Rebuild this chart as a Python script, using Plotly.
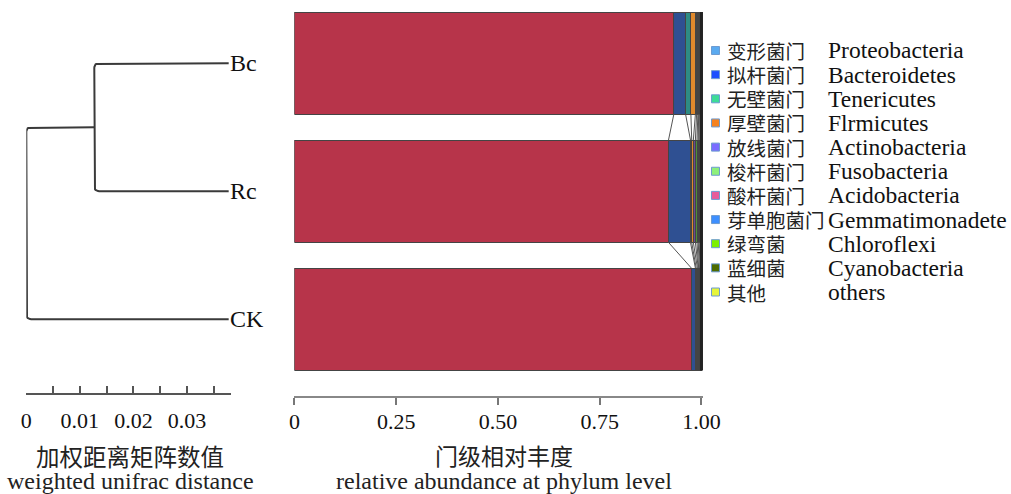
import plotly.graph_objects as go

# ---------------- data ----------------
samples = ["Bc", "Rc", "CK"]
sample_pos = [2, 1, 0]

phyla_cn = ["变形菌门", "拟杆菌门", "无壁菌门", "厚壁菌门", "放线菌门", "梭杆菌门",
            "酸杆菌门", "芽单胞菌门", "绿弯菌", "蓝细菌", "其他"]
phyla_en = ["Proteobacteria", "Bacteroidetes", "Tenericutes", "Flrmicutes", "Actinobacteria",
            "Fusobacteria", "Acidobacteria", "Gemmatimonadete", "Chloroflexi", "Cyanobacteria", "others"]

abund_Bc = [0.932, 0.029, 0.013, 0.011, 0.003, 0.003, 0.002, 0.002, 0.002, 0.001, 0.002]
abund_Rc = [0.919, 0.054, 0.003, 0.004, 0.005, 0.004, 0.003, 0.002, 0.002, 0.002, 0.002]
abund_CK = [0.975, 0.010, 0.002, 0.003, 0.002, 0.001, 0.002, 0.002, 0.001, 0.001, 0.001]

bar_colors = ["#B7344A", "#2F5092", "#2E8C84", "#E0892C", "#6A4C93", "#4E8F3A",
              "#8B5A2B", "#3B5998", "#6B8E23", "#2F4F2F", "#555555"]
legend_colors = ["#5AAAF0", "#1A4FFF", "#3DDC97", "#F5821F", "#7A6CFF", "#8EF07A",
                 "#E85C9A", "#3D8FFF", "#7CF000", "#4D6B00", "#E6F53A"]

# dendrogram: merge heights (weighted unifrac distance)
leaf_depth = 0.0378
merge_BcRc = 0.0251
merge_root = 0.0378

dendro_ticks = [0, 0.005, 0.01, 0.015, 0.02, 0.025, 0.03, 0.035]
dendro_labels = ["0", "", "0.01", "", "0.02", "", "0.03", ""]
bar_ticks = [0, 0.25, 0.5, 0.75, 1.0]
bar_labels = ["0", "0.25", "0.50", "0.75", "1.00"]

# ---------------- layout constants (target picture pixels) ----------------
FW, FH = 1011, 494
M_T, M_B = 12, 98
PLOT_H = FH - M_T - M_B
Y_RANGE = [-0.6, 2.4]
PX_PER_Y = PLOT_H / (Y_RANGE[1] - Y_RANGE[0])
DENDRO_PX = (28, 233)
DENDRO_RANGE = [0, 0.0383]
BAR_PX0, BAR_PX_UNIT = 296, 407
BAR_RANGE = [0, 1.004]
DENDRO_SHIFT = 3  # px
# measured horizontal mapping of the rendering pipeline: shown = SX * layout_px + OX
SX, OX = 0.976, 7.7

SERIF = "Liberation Serif, Times New Roman, serif"
CJK = "Noto Sans CJK SC"


def paper_x(p):
    return ((p - OX) / SX) / FW


def paper_y(p):
    return (FH - M_B - p) / PLOT_H


fig = go.Figure()

# ---------------- stacked bars ----------------
all_abund = {"Bc": abund_Bc, "Rc": abund_Rc, "CK": abund_CK}
for i, name in enumerate(phyla_en):
    fig.add_trace(go.Bar(
        x=[all_abund[s][i] for s in samples], y=sample_pos, orientation="h",
        marker=dict(color=bar_colors[i], line=dict(color="#444444", width=1)),
        width=0.8, xaxis="x2", yaxis="y", showlegend=False, name=name))


def cumsum(v):
    out, s = [], 0
    for a in v:
        s += a
        out.append(s)
    return out


cums = [cumsum(all_abund[s]) for s in samples]
lx, ly = [], []
for k in range(len(samples) - 1):
    top, bot = cums[k], cums[k + 1]
    y0, y1 = sample_pos[k] - 0.4, sample_pos[k + 1] + 0.4
    for j in range(len(phyla_en) - 1):
        lx += [top[j], bot[j], None]
        ly += [y0, y1, None]
fig.add_trace(go.Scatter(x=lx, y=ly, mode="lines", line=dict(color="#555555", width=1),
                         xaxis="x2", yaxis="y", showlegend=False, hoverinfo="skip"))
total = sum(abund_Bc)
fig.add_trace(go.Scatter(x=[total, total], y=[sample_pos[0] + 0.4, sample_pos[-1] - 0.4],
                         mode="lines", line=dict(color="#222222", width=3),
                         xaxis="x2", yaxis="y", showlegend=False, hoverinfo="skip"))

# ---------------- dendrogram ----------------
px_per_x = (DENDRO_PX[1] - DENDRO_PX[0]) / (DENDRO_RANGE[1] - DENDRO_RANGE[0]) / SX


def rounded(points, r_px=5, n=8):
    P = [(x * px_per_x, y * PX_PER_Y) for x, y in points]
    out = [P[0]]
    for i in range(1, len(P) - 1):
        ax, ay = P[i - 1]; bx, by = P[i]; cx, cy = P[i + 1]

        def unit(dx, dy):
            d = (dx * dx + dy * dy) ** 0.5
            return dx / d, dy / d
        u1 = unit(ax - bx, ay - by)
        u2 = unit(cx - bx, cy - by)
        p0 = (bx + u1[0] * r_px, by + u1[1] * r_px)
        p2 = (bx + u2[0] * r_px, by + u2[1] * r_px)
        for t in [k / n for k in range(n + 1)]:
            x = (1 - t) ** 2 * p0[0] + 2 * (1 - t) * t * bx + t * t * p2[0]
            y = (1 - t) ** 2 * p0[1] + 2 * (1 - t) * t * by + t * t * p2[1]
            out.append((x, y))
    out.append(P[-1])
    return [p[0] / px_per_x for p in out], [p[1] / PX_PER_Y for p in out]


x_leaf = leaf_depth
x_node = leaf_depth - merge_BcRc
x_root = leaf_depth - merge_root
y_bc, y_rc, y_ck = sample_pos
y_node = (y_bc + y_rc) / 2

dx, dy = [], []
for path in ([(x_leaf, y_bc), (x_node, y_bc), (x_node, y_rc), (x_leaf, y_rc)],
             [(x_node, y_node), (x_root, y_node), (x_root, y_ck), (x_leaf, y_ck)]):
    xs, ys = rounded(path)
    dx += xs + [None]
    dy += ys + [None]
fig.add_trace(go.Scatter(x=dx, y=dy, mode="lines", line=dict(color="#3a3a3a", width=2),
                         xaxis="x", yaxis="y2", showlegend=False, hoverinfo="skip"))

annotations = []
for s, yp in zip(samples, sample_pos):
    annotations.append(dict(x=x_leaf, y=yp, xref="x", yref="y2", text=s, showarrow=False,
                            xanchor="left", yanchor="middle", xshift=-1,
                            font=dict(family=SERIF, size=24, color="#111111")))

# ---------------- legend (manual) ----------------
shapes = []
row0, row_step = 50.5, 24.15
for i in range(len(phyla_en)):
    py = row0 + i * row_step
    shapes.append(dict(type="rect", xref="paper", yref="paper",
                       x0=paper_x(713), x1=paper_x(721), y0=paper_y(py + 4), y1=paper_y(py - 4),
                       fillcolor=legend_colors[i], line=dict(color="#6d9bd1", width=1)))
    annotations.append(dict(x=paper_x(727), y=paper_y(py), xref="paper", yref="paper",
                            text=phyla_cn[i], showarrow=False, xanchor="left", yanchor="middle",
                            font=dict(family=CJK, size=19.5, color="#222222")))
    annotations.append(dict(x=paper_x(827), y=paper_y(py), xref="paper", yref="paper",
                            text=phyla_en[i], showarrow=False, xanchor="left", yanchor="middle",
                            font=dict(family=SERIF, size=23.5, color="#111111")))

# ---------------- axis titles ----------------
for text, px, py, fam, size in [
    ("加权距离矩阵数值", 132, 456, CJK, 23.5),
    ("weighted unifrac distance", 132, 481, SERIF, 24),
    ("门级相对丰度", 506, 455, CJK, 23),
    ("relative abundance at phylum level", 506, 481, SERIF, 24),
]:
    annotations.append(dict(x=paper_x(px), y=paper_y(py), xref="paper", yref="paper", text=text,
                            showarrow=False, xanchor="center", yanchor="middle",
                            font=dict(family=fam, size=size, color="#222222")))

fig.update_layout(
    width=FW, height=FH, autosize=False, margin=dict(l=0, r=0, t=M_T, b=M_B),
    paper_bgcolor="white", plot_bgcolor="white",
    barmode="stack", bargap=0.2,
    xaxis=dict(domain=[paper_x(DENDRO_PX[0]), paper_x(DENDRO_PX[1])], range=DENDRO_RANGE, anchor="y2",
               tickvals=dendro_ticks, ticktext=dendro_labels, ticks="inside", ticklen=7,
               tickcolor="#555555", tickwidth=1.5, showline=True, linecolor="#555555", linewidth=1.5,
               showgrid=False, zeroline=False, ticklabelstandoff=7,
               tickfont=dict(family=SERIF, size=22, color="#111111")),
    xaxis2=dict(domain=[paper_x(BAR_PX0), paper_x(BAR_PX0 + BAR_PX_UNIT * BAR_RANGE[1])], range=BAR_RANGE,
                anchor="y", tickvals=bar_ticks, ticktext=bar_labels, ticks="outside", ticklen=7,
                tickcolor="#777777", tickwidth=1.5, showline=True, linecolor="#888888", linewidth=1.5,
                showgrid=False, zeroline=False, ticklabelstandoff=-2,
                tickfont=dict(family=SERIF, size=22, color="#111111")),
    yaxis=dict(domain=[0, 1], range=Y_RANGE, visible=False, fixedrange=True),
    yaxis2=dict(domain=[DENDRO_SHIFT / PLOT_H, 1],
                range=[Y_RANGE[0] + DENDRO_SHIFT / PX_PER_Y, Y_RANGE[1]], visible=False),
    annotations=annotations, shapes=shapes,
)

fig.write_html("out.html",
               config={"responsive": False, "displayModeBar": False},
               post_script="document.body.style.margin='0';document.body.style.overflow='hidden';")
